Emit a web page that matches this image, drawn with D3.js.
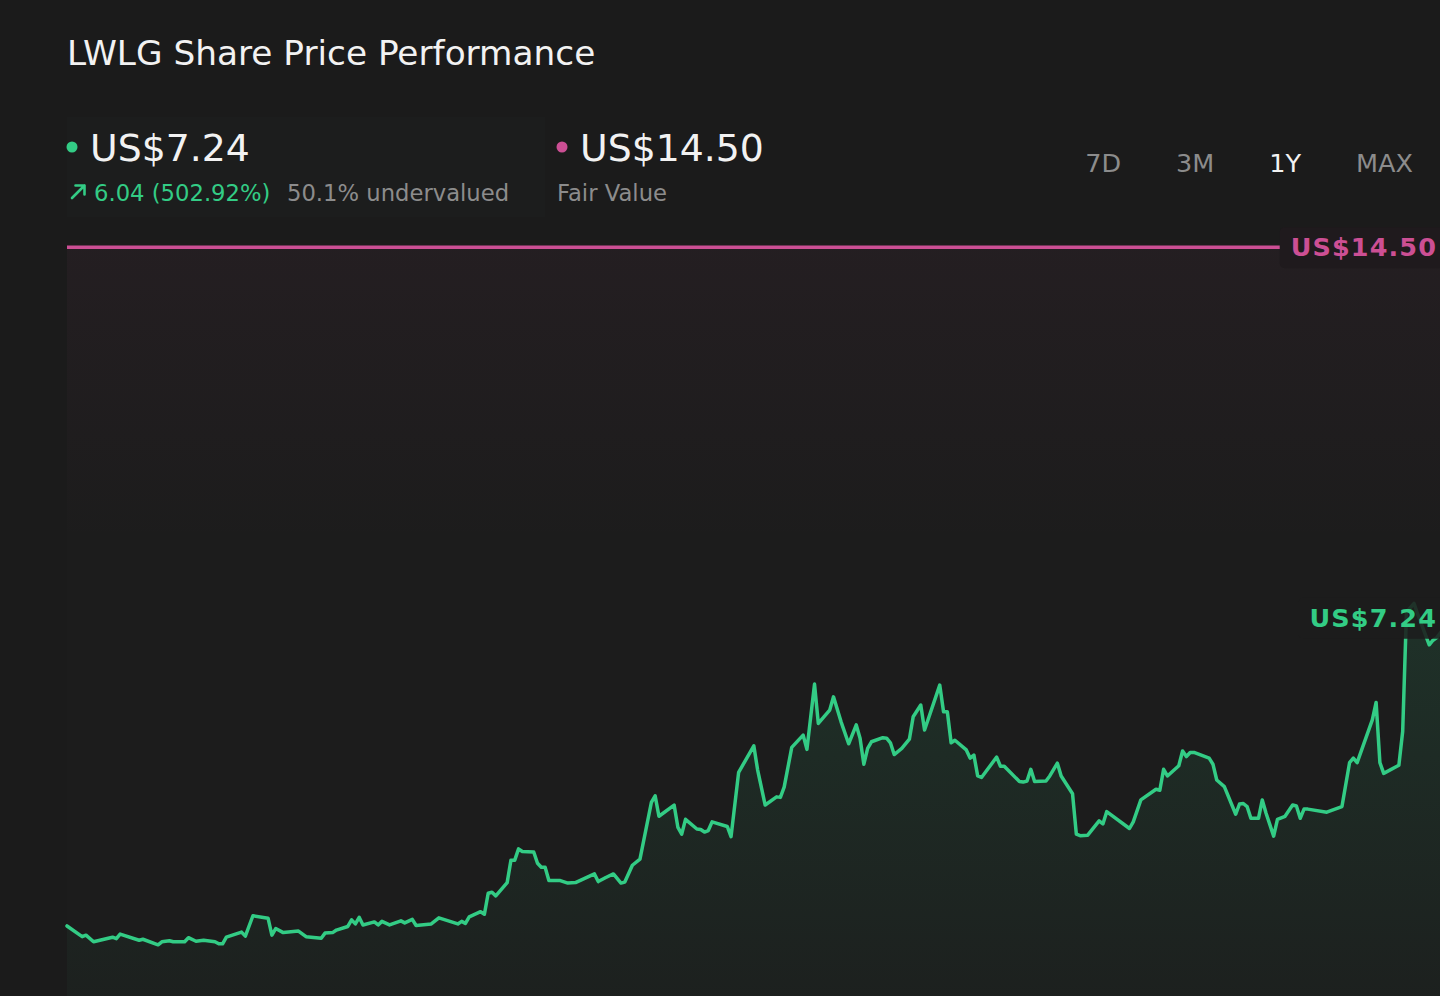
<!DOCTYPE html>
<html>
<head>
<meta charset="utf-8">
<script src="https://cdn.jsdelivr.net/npm/d3@7"></script>
<style>
  html, body { margin: 0; padding: 0; background: #1b1b1b; overflow: hidden; }
  svg { display: block; font-family: "DejaVu Sans", sans-serif; }
</style>
</head>
<body>
<svg id="chart" width="1440" height="996"></svg>
<script>
// ---- data ----
const titleText = "LWLG Share Price Performance";
const currentPrice = 7.24;
const fairValue = 14.50;
const priceChange = "6.04 (502.92%)";
const valuationText = "50.1% undervalued";
const fairValueLabel = "Fair Value";
const ranges = ["7D", "3M", "1Y", "MAX"];
const activeRange = "1Y";
const totalDays = 365;

// calendar-day offset within the 1Y window
const days = [0,4,5,7,12,13,14,19,20,24,25,27,28,31,32,34,36,39,40,41,42,46,47,49,53,54,55,57,61,63,
  67,68,70,71,74,75,76,77,78,81,82,83,85,88,89,91,92,96,98,103,104,105,106,109,110,111,112,113,116,117,
  118,119,120,123,124,125,126,127,130,132,134,139,140,142,144,146,147,149,151,154,155,156,160,161,162,163,166,167,168,169,
  170,174,175,177,181,182,184,187,188,189,191,194,195,197,198,201,202,204,206,208,209,210,211,212,215,216,217,218,220,222,
  223,225,226,230,231,232,233,234,237,238,239,240,241,245,246,247,251,252,253,254,255,258,259,261,262,265,266,267,269,272,
  273,274,280,281,283,287,288,289,290,293,294,295,296,297,301,302,303,305,308,309,310,311,312,314,315,316,318,319,321,323,
  324,325,326,327,332,336,338,339,340,344,345,346,347,351,352,353,355,356,359,360,361,363,365];
const prices = [1.20,0.99,1.02,0.89,0.98,0.95,1.04,0.92,0.94,0.83,0.89,0.91,0.89,0.89,0.97,0.90,0.92,0.89,0.85,0.85,0.98,1.08,1.00,1.40,1.35,1.02,1.15,1.07,1.10,0.99,
  0.96,1.06,1.07,1.12,1.19,1.32,1.24,1.37,1.22,1.28,1.22,1.29,1.22,1.30,1.26,1.33,1.21,1.24,1.36,1.24,1.29,1.25,1.38,1.48,1.43,1.84,1.86,1.79,2.05,2.49,
  2.49,2.71,2.66,2.65,2.43,2.35,2.35,2.09,2.09,2.04,2.05,2.22,2.07,2.15,2.22,2.04,2.06,2.39,2.51,3.62,3.75,3.35,3.57,3.13,3.00,3.29,3.10,3.09,3.04,3.07,
  3.24,3.15,2.95,4.21,4.73,4.26,3.57,3.73,3.72,3.92,4.70,4.94,4.66,5.94,5.17,5.43,5.69,5.20,4.77,5.14,4.88,4.37,4.68,4.81,4.89,4.88,4.79,4.56,4.68,4.86,
  5.30,5.53,5.04,5.92,5.40,5.40,4.79,4.84,4.65,4.49,4.55,4.14,4.11,4.51,4.33,4.33,4.03,4.02,4.04,4.27,4.03,4.04,4.14,4.39,4.14,3.79,3.00,2.97,2.98,3.26,
  3.20,3.44,3.11,3.24,3.67,3.88,3.86,4.27,4.14,4.34,4.63,4.52,4.60,4.60,4.49,4.37,4.06,3.93,3.39,3.59,3.60,3.54,3.31,3.31,3.67,3.41,2.96,3.29,3.35,3.57,
  3.55,3.31,3.49,3.49,3.43,3.54,4.40,4.49,4.40,5.24,5.58,4.40,4.19,4.35,5.01,7.35,7.52,7.30,6.71,6.80,6.85,7.05,7.24];

const series = days.map((d, i) => ({ day: d, price: prices[i] }));

// ---- layout ----
const W = 1440, H = 996;
const plotLeft = 67, plotRight = 1452, plotTop = 247.3, plotZero = 987.2;
const GREEN = "#33cc85", PINK = "#cc4f94", GRAY = "#8c8c8c", WHITE = "#f2f2f2";

const svg = d3.select("#chart");
const x = d3.scaleLinear().domain([0, totalDays]).range([plotLeft, plotRight]);
const y = d3.scaleLinear().domain([0, fairValue]).range([plotZero, plotTop]);

const defs = svg.append("defs");
const fvGrad = defs.append("linearGradient").attr("id", "fvGrad")
  .attr("gradientUnits", "userSpaceOnUse").attr("x1", 0).attr("x2", 0).attr("y1", y(fairValue)).attr("y2", H);
fvGrad.append("stop").attr("offset", 0).attr("stop-color", PINK).attr("stop-opacity", 0.045);
fvGrad.append("stop").attr("offset", 0.4).attr("stop-color", PINK).attr("stop-opacity", 0.0);

const areaGrad = defs.append("linearGradient").attr("id", "areaGrad")
  .attr("gradientUnits", "userSpaceOnUse").attr("x1", 0).attr("x2", 0).attr("y1", y(currentPrice)).attr("y2", H);
areaGrad.append("stop").attr("offset", 0).attr("stop-color", GREEN).attr("stop-opacity", 0.12);
areaGrad.append("stop").attr("offset", 1).attr("stop-color", GREEN).attr("stop-opacity", 0.025);

// background
svg.append("rect").attr("width", W).attr("height", H).attr("fill", "#1b1b1b");

// header card
svg.append("rect").attr("x", plotLeft).attr("y", 117).attr("width", 478).attr("height", 100)
  .attr("fill", "#1c1d1d");

// chart area base
svg.append("rect").attr("x", plotLeft).attr("y", y(fairValue)).attr("width", W - plotLeft).attr("height", H - y(fairValue))
  .attr("fill", "#1c1c1c");
svg.append("rect").attr("x", plotLeft).attr("y", y(fairValue)).attr("width", W - plotLeft).attr("height", H - y(fairValue))
  .attr("fill", "url(#fvGrad)");

// price area
const area = d3.area().x(d => x(d.day)).y0(H).y1(d => y(d.price));
svg.append("path").datum(series).attr("d", area).attr("fill", "url(#areaGrad)");

// price line
const line = d3.line().x(d => x(d.day)).y(d => y(d.price));
svg.append("path").datum(series).attr("d", line)
  .attr("fill", "none").attr("stroke", GREEN).attr("stroke-width", 3.5)
  .attr("stroke-linejoin", "round").attr("stroke-linecap", "round");

// fair value line
svg.append("line").attr("x1", plotLeft).attr("x2", plotRight).attr("y1", y(fairValue)).attr("y2", y(fairValue))
  .attr("stroke", PINK).attr("stroke-width", 3.5);

// end labels, right-aligned just inside the visible edge
const labelRight = W - 3;
function endLabel(value, color, boxFill) {
  const g = svg.append("g");
  const box = g.append("rect");
  const t = g.append("text").attr("x", labelRight).attr("y", y(value) + 9)
    .attr("text-anchor", "end").attr("fill", color)
    .attr("font-size", 25.5).attr("font-weight", "bold").attr("letter-spacing", 1.1)
    .text("US$" + value.toFixed(2));
  const bb = t.node().getBBox();
  box.attr("x", bb.x - 11).attr("y", y(value) - 20).attr("width", bb.width + 30).attr("height", 41)
    .attr("rx", 5).attr("fill", boxFill);
}
endLabel(fairValue, PINK, "#1f1a1d");
endLabel(currentPrice, GREEN, "rgba(28,28,28,0.88)");

// title
svg.append("text").attr("x", plotLeft).attr("y", 65).attr("fill", WHITE)
  .attr("font-size", 34.3).text(titleText);

// current price block
svg.append("circle").attr("cx", 72).attr("cy", 147).attr("r", 5.5).attr("fill", GREEN);
svg.append("text").attr("x", 90).attr("y", 161).attr("fill", WHITE).attr("font-size", 37.8)
  .text("US$" + currentPrice.toFixed(2));
svg.append("path").attr("d", "M72,198 L84.5,185.5 M75.5,185.5 L84.5,185.5 L84.5,194.5")
  .attr("fill", "none").attr("stroke", GREEN).attr("stroke-width", 2.6)
  .attr("stroke-linecap", "round").attr("stroke-linejoin", "round");
svg.append("text").attr("x", 94).attr("y", 200.5).attr("fill", GREEN).attr("font-size", 22.7)
  .text(priceChange);
svg.append("text").attr("x", 287).attr("y", 200.5).attr("fill", GRAY).attr("font-size", 22.7)
  .text(valuationText);

// fair value block
svg.append("circle").attr("cx", 562).attr("cy", 147).attr("r", 5.5).attr("fill", PINK);
svg.append("text").attr("x", 580).attr("y", 161).attr("fill", WHITE).attr("font-size", 37.8)
  .text("US$" + fairValue.toFixed(2));
svg.append("text").attr("x", 557).attr("y", 200.5).attr("fill", GRAY).attr("font-size", 22.7)
  .text(fairValueLabel);

// range buttons: laid out right-to-left with equal gaps
const btnRight = 1413, btnGap = 55;
const btns = svg.selectAll("text.range").data(ranges).enter().append("text")
  .attr("class", "range")
  .attr("y", 172).attr("text-anchor", "start")
  .attr("font-size", 25.5)
  .attr("fill", d => d === activeRange ? WHITE : GRAY)
  .text(d => d);
let cursor = btnRight;
btns.nodes().reverse().forEach(n => {
  const w = n.getComputedTextLength();
  cursor -= w;
  d3.select(n).attr("x", cursor);
  cursor -= btnGap;
});
</script>
</body>
</html>
